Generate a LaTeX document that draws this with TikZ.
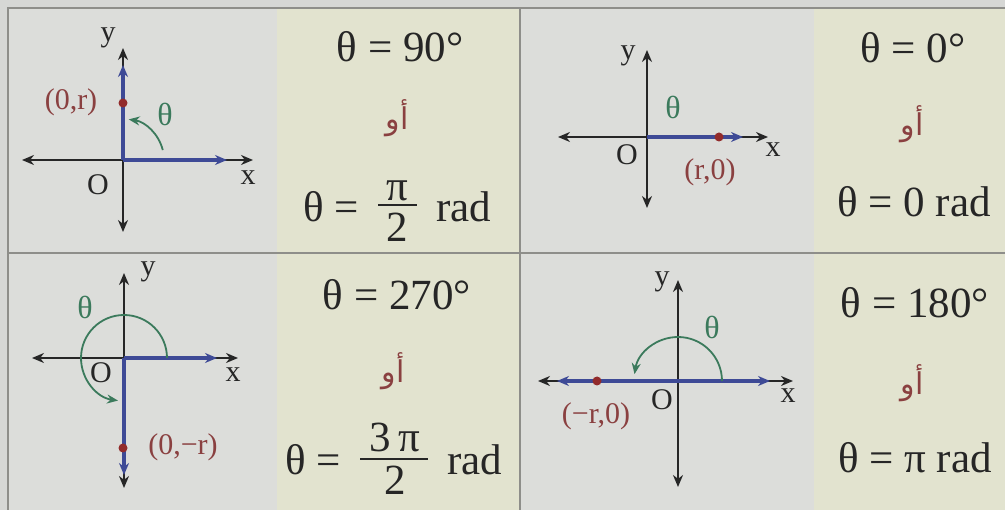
\documentclass[tikz,border=0pt]{standalone}
\usepackage{fontspec}
\setmainfont{Liberation Serif}
\newfontfamily\arabicfont[Script=Arabic]{DejaVu Sans}
\TeXXeTstate=1
\usetikzlibrary{arrows.meta}
\definecolor{bgout}{HTML}{D6D7D5}
\definecolor{graphbg}{HTML}{DCDDDA}
\definecolor{textbg}{HTML}{E2E3CF}
\definecolor{rulec}{HTML}{8E8E8A}
\definecolor{axblue}{HTML}{3E4A96}
\definecolor{thgreen}{HTML}{3B7A5C}
\definecolor{ptred}{HTML}{922B2B}
\definecolor{lblred}{HTML}{8A4040}
\definecolor{ink}{HTML}{262626}
\tikzset{
  axisline/.style={ink, line width=2pt, {Stealth[length=12pt,width=10pt]}-{Stealth[length=12pt,width=10pt]}},
  ray/.style={axblue, line width=3.4pt, -{Stealth[length=12pt,width=10pt]}},
  bray/.style={axblue, line width=3.4pt, {Stealth[length=12pt,width=10pt]}-{Stealth[length=12pt,width=10pt]}},
  angarc/.style={thgreen, line width=1.8pt, -{Stealth[length=11pt,width=9pt]}},
  ptdot/.style={circle, fill=ptred, inner sep=0pt, minimum size=9pt},
  axlbl/.style={font=\fontsize{30}{30}\selectfont, text=ink, inner sep=0pt},
  ptlbl/.style={font=\fontsize{30}{30}\selectfont, text=lblred, inner sep=0pt},
  thlbl/.style={font=\fontsize{32}{32}\selectfont, text=thgreen, inner sep=0pt},
  eqn/.style={font=\fontsize{43}{43}\selectfont, text=ink, inner sep=0pt, anchor=base},
  orw/.style={font=\arabicfont\fontsize{30}{30}\selectfont, text=lblred, inner sep=0pt},
  frameline/.style={rulec, line width=2pt}
}
\begin{document}
\begin{tikzpicture}[x=1pt,y=-1pt]
\useasboundingbox (0,0) rectangle (1005,510);
\fill[bgout] (0,0) rectangle (1005,510);
% backgrounds
\fill[graphbg] (8,8) rectangle (277,253);
\fill[textbg] (277,8) rectangle (520,253);
\fill[graphbg] (520,8) rectangle (814,253);
\fill[textbg] (814,8) rectangle (1005,253);
\fill[graphbg] (8,253) rectangle (277,510);
\fill[textbg] (277,253) rectangle (520,510);
\fill[graphbg] (520,253) rectangle (814,510);
\fill[textbg] (814,253) rectangle (1005,510);
% frame
\draw[frameline] (1005,8) -- (8,8) -- (8,510);
\draw[frameline] (8,253) -- (1005,253);
\draw[frameline] (520,8) -- (520,510);

% ---------- cell 1 : 90 deg ----------
\coordinate (o1) at (123,160);
\coordinate (l1) at (22,160); \coordinate (r1) at (253,160);
\coordinate (u1) at (123,48); \coordinate (d1) at (123,232);
\coordinate (br1) at (227,160); \coordinate (bu1) at (123,65);
\draw[axisline] (l1) -- (r1);
\draw[axisline] (d1) -- (u1);
\draw[ray] (o1) -- (br1);
\draw[ray] (o1) -- (bu1);
\node[ptdot] (p1) at (123,103) {};
\node[ptlbl] (pl1) at (71,102) {(0,r)};
\draw[angarc] ([shift={(-14:41)}]o1) arc[start angle=-14, end angle=-82, radius=41];
\node[thlbl] (t1) at (165,114) {θ};
\node[axlbl] (y1) at (108,38) {y};
\node[axlbl] (x1) at (248,178) {x};
\node[axlbl] (O1) at (98,185) {O};
\node[eqn] (e1a) at (400,62) {θ = 90°};
\node[orw] (or1) at (397,118) {\beginR أو\endR};
\node[eqn, anchor=base west] (e1b) at (303,222) {θ =};
\node[eqn] (n1) at (397,201) {π};
\node[eqn] (d1n) at (397,242) {2};
\draw[ink, line width=1.6pt] (378,205) -- (417,205);
\node[eqn, anchor=base west] (rad1) at (436,222) {rad};

% ---------- cell 2 : 0 deg ----------
\coordinate (o2) at (647,137);
\coordinate (l2) at (558,137); \coordinate (r2) at (768,137);
\coordinate (u2) at (647,50); \coordinate (d2) at (647,208);
\coordinate (br2) at (743,137);
\draw[axisline] (l2) -- (r2);
\draw[axisline] (d2) -- (u2);
\draw[ray] (o2) -- (br2);
\node[ptdot] (p2) at (719,137) {};
\node[ptlbl] (pl2) at (710,172) {(r,0)};
\node[thlbl] (t2) at (673,107) {θ};
\node[axlbl] (y2) at (628,56) {y};
\node[axlbl] (x2) at (773,150) {x};
\node[axlbl] (O2) at (627,155) {O};
\node[eqn] (e2a) at (913,63) {θ = 0°};
\node[orw] (or2) at (912,124) {\beginR أو\endR};
\node[eqn] (e2b) at (914,217) {θ = 0 rad};

% ---------- cell 3 : 270 deg ----------
\coordinate (o3) at (124,358);
\coordinate (l3) at (32,358); \coordinate (r3) at (238,358);
\coordinate (u3) at (124,273); \coordinate (d3) at (124,488);
\coordinate (br3) at (217,358); \coordinate (bd3) at (124,475);
\draw[axisline] (l3) -- (r3);
\draw[axisline] (d3) -- (u3);
\draw[ray] (o3) -- (br3);
\draw[ray] (o3) -- (bd3);
\node[ptdot] (p3) at (123,448) {};
\node[ptlbl] (pl3) at (183,447) {(0,−r)};
\draw[angarc] ([shift={(0:43)}]o3) arc[start angle=0, end angle=-262, radius=43];
\node[thlbl] (t3) at (85,307) {θ};
\node[axlbl] (y3) at (148,272) {y};
\node[axlbl] (x3) at (233,375) {x};
\node[axlbl] (O3) at (101,373) {O};
\node[eqn] (e3a) at (397,310) {θ = 270°};
\node[orw] (or3) at (393,371) {\beginR أو\endR};
\node[eqn, anchor=base west] (e3b) at (285,475) {θ =};
\node[eqn] (n3) at (395,452) {3\,π};
\node[eqn] (d3n) at (395,495) {2};
\draw[ink, line width=1.6pt] (360,459) -- (428,459);
\node[eqn, anchor=base west] (rad3) at (447,475) {rad};

% ---------- cell 4 : 180 deg ----------
\coordinate (o4) at (678,381);
\coordinate (l4) at (538,381); \coordinate (r4) at (793,381);
\coordinate (u4) at (678,280); \coordinate (d4) at (678,487);
\coordinate (bl4) at (557,381); \coordinate (br4) at (770,381);
\draw[axisline] (l4) -- (r4);
\draw[axisline] (d4) -- (u4);
\draw[bray] (bl4) -- (br4);
\node[ptdot] (p4) at (597,381) {};
\node[ptlbl] (pl4) at (596,416) {(−r,0)};
\draw[angarc] ([shift={(0:44)}]o4) arc[start angle=0, end angle=-171, radius=44];
\node[thlbl] (t4) at (712,327) {θ};
\node[axlbl] (y4) at (662,282) {y};
\node[axlbl] (x4) at (788,396) {x};
\node[axlbl] (O4) at (662,400) {O};
\node[eqn] (e4a) at (915,318) {θ = 180°};
\node[orw] (or4) at (912,383) {\beginR أو\endR};
\node[eqn] (e4b) at (915,473) {θ = π rad};
\end{tikzpicture}
\end{document}
